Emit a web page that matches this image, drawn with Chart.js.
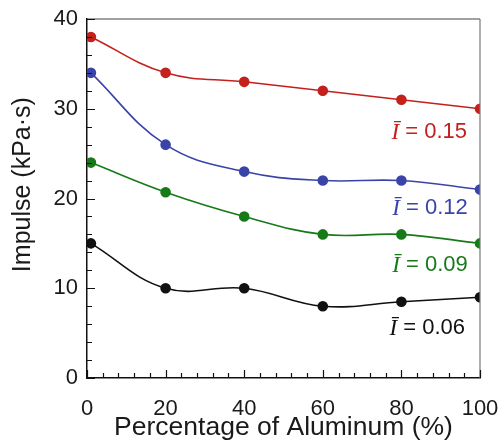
<!DOCTYPE html>
<html>
<head>
<meta charset="utf-8">
<script src="https://cdn.jsdelivr.net/npm/chart.js@4"></script>
<style>
  html, body { margin: 0; padding: 0; background: #fff; }
  #wrap { width: 500px; height: 444px; }
</style>
</head>
<body>
<div id="wrap"><canvas id="impulseChart" width="500" height="444"></canvas></div>
<script>
// data
const aluminumPct = [1, 20, 40, 60, 80, 100];
const impulse015 = [38, 34, 33, 32, 31, 30];
const impulse012 = [34, 26, 23, 22, 22, 21];
const impulse009 = [24, 20.7, 18, 16, 16, 15];
const impulse006 = [15, 10, 10, 8, 8.5, 9];
const seriesLabels = ['0.15', '0.12', '0.09', '0.06'];
const seriesColors = ['#c4201c', '#3a44a8', '#177a18', '#111111'];
// where each label sits, in data units (x right edge, y middle)
const labelX = [96.7, 96.9, 96.9, 96.2];
const labelY = [27.4, 18.9, 12.6, 5.6];

const xMajor = [0, 20, 40, 60, 80, 100];
const yMajor = [0, 10, 20, 30, 40];

function toPoints(ys) {
  return aluminumPct.map((x, i) => ({ x: x, y: ys[i] }));
}

const allSeries = [impulse015, impulse012, impulse009, impulse006];

// inward ticks, frame and the I-bar labels
const decorPlugin = {
  id: 'decor',
  afterDraw(chart) {
    const c = chart.ctx;
    const xs = chart.scales.x, ys = chart.scales.y;
    const a = chart.chartArea;
    c.save();
    // top and right frame
    c.strokeStyle = '#444';
    c.lineWidth = 1.2;
    c.beginPath();
    c.moveTo(a.left, a.top);
    c.lineTo(a.right, a.top);
    c.stroke();
    c.strokeStyle = '#777';
    c.beginPath();
    c.moveTo(a.right, a.top);
    c.lineTo(a.right, a.bottom);
    c.stroke();

    c.strokeStyle = '#111';
    c.lineWidth = 1.2;
    c.beginPath();
    for (let v = 0; v <= 100; v += 4) {
      const px = Math.round(xs.getPixelForValue(v)) + 0.5;
      const len = (v % 20 === 0) ? 8 : 5;
      c.moveTo(px, a.bottom);
      c.lineTo(px, a.bottom - len);
    }
    for (let v = 0; v <= 40; v += 2) {
      const py = Math.round(ys.getPixelForValue(v)) + 0.5;
      const len = (v % 10 === 0) ? 8 : 5;
      c.moveTo(a.left, py);
      c.lineTo(a.left + len, py);
    }
    c.stroke();

    // labels
    c.textBaseline = 'middle';
    seriesLabels.forEach((lab, i) => {
      const right = xs.getPixelForValue(labelX[i]);
      const mid = ys.getPixelForValue(labelY[i]);
      c.fillStyle = seriesColors[i];
      c.font = '22px "Liberation Sans", Arial, sans-serif';
      const rest = ' = ' + lab;
      const wRest = c.measureText(rest).width;
      c.textAlign = 'left';
      c.fillText(rest, right - wRest, mid);
      c.font = 'italic 23px "Liberation Serif", "DejaVu Serif", serif';
      const wI = c.measureText('Ī').width;
      c.fillText('Ī', right - wRest - wI, mid + 1);
    });
    c.restore();
  }
};

document.addEventListener('DOMContentLoaded', function () {
  const ctx = document.getElementById('impulseChart');
  new Chart(ctx, {
    type: 'line',
    data: {
      datasets: allSeries.map((ys, i) => ({
        label: seriesLabels[i],
        data: toPoints(ys),
        borderColor: seriesColors[i],
        backgroundColor: seriesColors[i],
        pointBackgroundColor: seriesColors[i],
        pointBorderColor: seriesColors[i],
        pointRadius: 4.5,
        borderWidth: 1.6,
        tension: 0.4,
        fill: false
      }))
    },
    options: {
      responsive: false,
      animation: false,
      layout: { padding: { top: 19, right: 20, left: 0, bottom: 0 } },
      plugins: {
        legend: { display: false },
        tooltip: { enabled: false }
      },
      scales: {
        x: {
          type: 'linear',
          min: 0,
          max: 100,
          afterFit(scale) {
            scale.height = 66;
            scale.paddingLeft = 0;
            scale.paddingRight = 0;
          },
          afterBuildTicks(scale) { scale.ticks = xMajor.map(v => ({ value: v })); },
          grid: { display: false, drawTicks: false },
          border: { display: true, color: '#111', width: 1.5 },
          ticks: {
            padding: 18,
            color: '#1a1a1a',
            font: { family: '"Liberation Sans", Arial, sans-serif', size: 22 }
          },
          title: {
            display: true,
            text: 'Percentage of Aluminum (%)',
            color: '#1a1a1a',
            padding: { top: 0, bottom: 0 },
            font: { family: '"Liberation Sans", Arial, sans-serif', size: 26.5 }
          }
        },
        y: {
          type: 'linear',
          min: 0,
          max: 40,
          afterFit(scale) {
            scale.width = 87;
            scale.paddingTop = 0;
            scale.paddingBottom = 0;
          },
          afterBuildTicks(scale) { scale.ticks = yMajor.map(v => ({ value: v })); },
          grid: { display: false, drawTicks: false },
          border: { display: true, color: '#111', width: 1.5 },
          ticks: {
            padding: 9,
            color: '#1a1a1a',
            font: { family: '"Liberation Sans", Arial, sans-serif', size: 22 }
          },
          title: {
            display: true,
            text: '    Impulse (kPa·s)',
            color: '#1a1a1a',
            padding: { top: 8, bottom: 0 },
            font: { family: '"Liberation Sans", Arial, sans-serif', size: 25 }
          }
        }
      }
    },
    plugins: [decorPlugin]
  });
});
</script>
</body>
</html>
